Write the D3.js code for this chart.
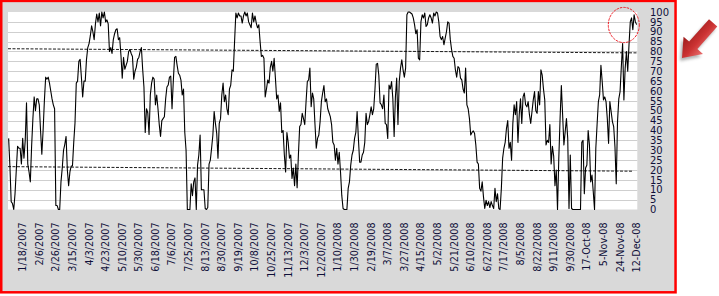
<!DOCTYPE html>
<html>
<head>
<meta charset="utf-8">
<script src="https://cdn.jsdelivr.net/npm/d3@7"></script>
<style>
  body { margin: 0; background: #fff; }
  svg { display: block; }
</style>
</head>
<body>
<svg id="chart" width="719" height="296"></svg>
<script>
// tick labels, one every 13 trading days
const tickLabels = [
  "1/18/2007", "2/6/2007", "2/26/2007", "3/15/2007", "4/3/2007", "4/23/2007",
  "5/10/2007", "5/30/2007", "6/18/2007", "7/6/2007", "7/25/2007", "8/13/2007",
  "8/30/2007", "9/19/2007", "10/8/2007", "10/25/2007", "11/13/2007", "12/3/2007",
  "12/20/2007", "1/10/2008", "1/30/2008", "2/19/2008", "3/7/2008", "3/27/2008",
  "4/15/2008", "5/2/2008", "5/21/2008", "6/10/2008", "6/27/2008", "7/17/2008",
  "8/5/2008", "8/22/2008", "9/11/2008", "9/30/2008", "17-Oct-08", "5-Nov-08",
  "24-Nov-08", "12-Dec-08"
];
const firstTick = 11; // index of 1/18/2007 in the series
const tickStep = 13;

const yTicks = d3.range(0, 101, 5);

// daily oscillator readings, 12/29/2006 .. 12/12/2008
const values = [
  36, 22, 4, 3, 0, 8, 20, 32, 31, 31, 23, 36, 26, 35, 54, 23, 19, 14, 32, 46,
  57, 50, 56, 56, 53, 40, 28, 40, 55, 67, 66, 67, 64, 60, 56, 53, 51, 2, 2, 0,
  0, 14, 21, 30, 33, 37, 20, 12, 19, 22, 22, 34, 44, 64, 65, 75, 76, 67, 57, 65,
  65, 76, 82, 84, 88, 93, 90, 86, 94, 99,
  95, 99.5, 93, 100, 97, 100, 95, 96, 94, 80, 82, 79, 86, 89, 91, 91.5, 86, 87, 78, 66.5,
  77, 71, 73, 75, 80, 81, 79, 77.5, 66, 70, 72, 76, 77, 80, 82, 71, 62, 39, 51, 49,
  38, 58, 64, 67, 66, 53, 58, 51, 43, 37, 45, 46, 47, 56, 62, 63, 67, 67.5, 51, 65,
  77, 77.5, 73, 69, 68, 65.5, 58, 61, 39, 30, 0,
  0, 0, 13, 7, 14, 16, 0, 22.5, 27.6, 37.7, 10, 10, 10, 0.5, 0, 1, 23, 25, 31, 37.7,
  49.6, 43.6, 38.6, 26, 43.6, 46, 58, 64, 54.6, 58, 51, 48, 61, 63, 70.7, 70, 85, 99.5, 97, 99.5,
  98, 98, 94.4, 98, 100, 98, 99.5, 95, 93.5, 92, 99.5, 95, 98, 94.4, 92, 93.5, 85, 77.5, 78, 76.6,
  57, 61, 65.6, 64, 72, 75, 70, 76.6, 66.5, 56,
  58, 49.6, 54, 39, 40, 27.6, 19, 39, 34, 26, 27.6, 15.7, 21, 12, 23, 11, 27.6, 42, 43, 48.7,
  46, 43, 54.6, 64.8, 65.6, 71.6, 52, 59, 56, 43, 31, 36, 37.7, 44.5, 54.6, 59, 62.8, 54.6, 56, 51,
  49, 47, 43, 34, 32.7, 25, 31, 23, 29, 19, 7, 0.5, 0, 0, 0, 10.7, 14, 22.5, 27.6, 30,
  36, 39, 49.6, 36, 24, 24, 27.6, 29, 34, 48.7, 43,
  44.5, 48, 52, 48, 51, 61, 73.6, 74, 68, 54, 53, 51, 58, 43.6, 43, 36, 63, 61, 64.8, 56,
  37, 57, 66.5, 43, 64.8, 71.6, 75.8, 70.7, 67, 71.6, 98.6, 100, 100, 99.5, 99, 97, 93.6, 89, 91, 76.6,
  75.8, 95, 98.6, 97, 99.5, 92.7, 93.6, 97, 98.6, 97, 94.4, 99.5, 98, 100, 99.5, 95, 87.6, 86, 87.6, 83.4,
  86.8, 90, 95, 94.4, 86, 81, 77.5, 76.6, 70.7, 67,
  72.4, 71.6, 66.5, 65.6, 61, 59, 71.6, 53, 51, 46, 37.7, 39, 39.8, 38.6, 32.7, 24, 23, 10.7, 9.3, 14,
  6.4, 0.5, 4.7, 2, 4, 1, 4, 2, 0.5, 10.7, 4, 8, 0.5, 0, 10.7, 26, 31, 34, 41, 45,
  31, 34, 25, 43.6, 53, 48, 54.6, 34, 48, 56, 43.6, 57, 59, 53, 52, 54.6, 48, 43.6, 49.6, 55.5,
  59.7, 50, 48.7, 59.7, 53, 70.7, 68, 61, 55.5, 32.7, 35,
  34, 43, 23, 32, 27, 12, 20, 0, 26, 46, 62.8, 48, 32.7, 39.4, 46, 36, 0.5, 27.6, 0.5, 0,
  0, 0, 0, 0, 0, 0, 34, 35, 8, 21, 22.5, 40, 32.7, 14, 17.4, 9, 0, 31, 43, 54.6,
  58, 73, 64.8, 55.5, 57, 54.6, 46, 33.5, 54.6, 49.6, 44.5, 42, 31.8, 13, 44.5, 56, 59.7, 72.4, 84, 55.5,
  71.6, 80, 70, 83.4, 95, 97, 91, 98.6, 95, 93.6
];

// hand drawn trend lines (index, value)
const upperTrend = [[-0.5, 81.4], [493, 79.3]];
const lowerTrend = [[-0.5, 21.7], [488.5, 19.4]];

const N = values.length;
const svg = d3.select("#chart");

const plotL = 8, plotR = 637.3, plotT = 12, plotB = 209.5;
const x = d3.scaleLinear().domain([-0.5, N - 0.5]).range([plotL, plotR]);
const y = d3.scaleLinear().domain([0, 100]).range([plotB, plotT]);

// frame: grey chart area with red border
svg.append("rect")
  .attr("x", 1.25).attr("y", 0.9)
  .attr("width", 674.3).attr("height", 291.4)
  .attr("fill", "#d9d9d9")
  .attr("stroke", "#ff0000")
  .attr("stroke-width", 2.5);

svg.append("rect")
  .attr("x", plotL).attr("y", plotT)
  .attr("width", plotR - plotL).attr("height", plotB - plotT)
  .attr("fill", "#fff");

// gridlines
svg.append("g")
  .selectAll("line")
  .data(yTicks.filter(v => v > 0 && v < 100))
  .join("line")
  .attr("x1", plotL).attr("x2", plotR)
  .attr("y1", d => Math.round(y(d)) + 0.5)
  .attr("y2", d => Math.round(y(d)) + 0.5)
  .attr("stroke", "#cfcfcf")
  .attr("stroke-width", 1);

// trend lines
const trendLine = d3.line().x(d => x(d[0])).y(d => y(d[1]));
svg.append("g")
  .selectAll("path")
  .data([upperTrend, lowerTrend])
  .join("path")
  .attr("d", trendLine)
  .attr("fill", "none")
  .attr("stroke", "#1a1a1a")
  .attr("stroke-width", 1)
  .attr("stroke-dasharray", "3,1.5");

// series
const line = d3.line().x((d, i) => x(i)).y(d => y(d));
svg.append("path")
  .datum(values)
  .attr("d", line)
  .attr("fill", "none")
  .attr("stroke", "#000")
  .attr("stroke-width", 1.1)
  .attr("stroke-linejoin", "round");

// right value axis
const yAxis = d3.axisRight(y).tickValues(yTicks).tickSize(0).tickPadding(0);
const gy = svg.append("g")
  .attr("transform", "translate(650,0)")
  .call(yAxis);
gy.select(".domain").remove();
gy.selectAll("text")
  .attr("font-family", "DejaVu Sans, Verdana, sans-serif")
  .attr("font-size", 10)
  .attr("fill", "#10103a");

// date labels, rotated
svg.append("g")
  .selectAll("text")
  .data(tickLabels)
  .join("text")
  .attr("transform", (d, k) => `translate(${x(firstTick + tickStep * k)},222.5) rotate(-90)`)
  .attr("dy", "0.36em")
  .attr("text-anchor", "end")
  .attr("font-family", "DejaVu Sans, Verdana, sans-serif")
  .attr("font-size", 9.6)
  .attr("fill", "#10103a")
  .text(d => d);

// red highlight circle around the last peak
svg.append("ellipse")
  .attr("cx", 623.8).attr("cy", 25)
  .attr("rx", 15.5).attr("ry", 17.6)
  .attr("fill", "none")
  .attr("stroke", "#ee1c24")
  .attr("stroke-width", 1)
  .attr("stroke-dasharray", "2.5,1");

// red arrow pointing at the chart
const defs = svg.append("defs");
const grad = defs.append("linearGradient")
  .attr("id", "arrowFill")
  .attr("gradientUnits", "userSpaceOnUse")
  .attr("x1", 0).attr("y1", -13).attr("x2", 0).attr("y2", 13);
grad.append("stop").attr("offset", 0).attr("stop-color", "#e97070");
grad.append("stop").attr("offset", 0.45).attr("stop-color", "#cc3333");
grad.append("stop").attr("offset", 1).attr("stop-color", "#9c1c1c");
defs.append("filter").attr("id", "blur")
  .append("feGaussianBlur").attr("stdDeviation", 1.6);

const arrowPath = "M0,0 L-17,-13 L-17,-5.5 L-47,-5.5 L-47,5.5 L-17,5.5 L-17,13 Z";
svg.append("path")
  .attr("d", arrowPath)
  .attr("transform", "translate(680,61) rotate(131.5)")
  .attr("fill", "#000")
  .attr("opacity", 0.3)
  .attr("filter", "url(#blur)");
svg.append("path")
  .attr("d", arrowPath)
  .attr("transform", "translate(682,58) rotate(131.5)")
  .attr("fill", "url(#arrowFill)");
</script>
</body>
</html>
